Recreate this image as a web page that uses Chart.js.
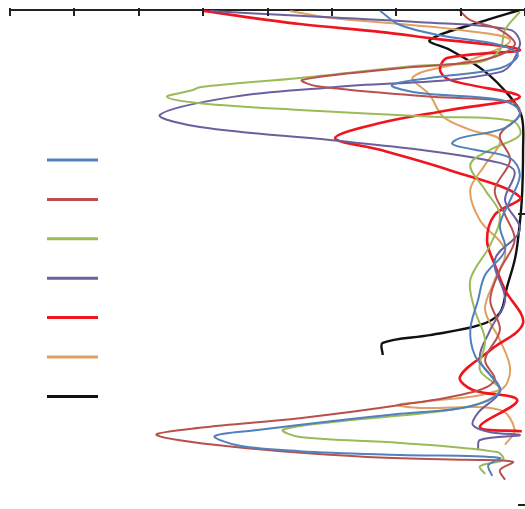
<!DOCTYPE html>
<html>
<head>
<meta charset="utf-8">
<script src="https://cdn.jsdelivr.net/npm/chart.js@4.4.1/dist/chart.umd.min.js"></script>
<style>
  html, body { margin: 0; padding: 0; background: #fff; }
  #wrap { width: 525px; height: 509px; overflow: hidden; }
</style>
</head>
<body>
<div id="wrap"><canvas id="profil" width="525" height="509"></canvas></div>
<script>
// valeurs (x = valeur, y = hauteur)
const names = ['P1', 'P2', 'P3', 'P4', 'P5', 'P6', 'P7'];

const s1x = [-2.25, -1.94, -1.32, -0.39, -0.11, -0.39, -1.48, -2.07, -1.63, -0.39, -0.08, -0.31, -1.01, -1.13, -0.78, -0.23, -0.08, -0.23, -0.39, -0.31, -0.62, -0.73, -0.85, -0.78, -0.54, -0.39, -0.90, -1.94, -2.98, -4.12, -4.82, -4.43, -3.50, -1.94, -0.39, -0.57, -0.51];
const s1y = [10.18, 9.89, 9.68, 9.48, 9.27, 9.00, 8.80, 8.65, 8.49, 8.35, 8.10, 7.77, 7.56, 7.44, 7.32, 7.15, 6.80, 6.28, 5.77, 5.25, 4.74, 4.22, 3.61, 3.09, 2.68, 2.33, 2.02, 1.88, 1.73, 1.55, 1.42, 1.22, 1.11, 1.03, 0.97, 0.82, 0.60];

const s2x = [-1.01, -0.85, -0.39, -0.16, -0.65, -1.94, -3.46, -3.23, -1.43, -0.19, -0.08, -0.39, -0.23, -0.47, -0.31, -0.16, -0.39, -0.54, -0.39, -0.62, -0.47, -0.81, -1.94, -3.50, -5.05, -5.72, -4.54, -2.45, -0.90, -0.19, -0.39, -0.31];
const s2y = [10.18, 9.99, 9.79, 9.48, 9.17, 9.00, 8.76, 8.63, 8.41, 8.30, 8.04, 7.62, 7.11, 6.49, 5.98, 5.46, 4.84, 4.22, 3.61, 2.99, 2.58, 2.33, 2.06, 1.79, 1.59, 1.44, 1.20, 0.99, 0.93, 0.89, 0.72, 0.52];

const s3x = [-0.08, -0.31, -0.39, -0.70, -1.68, -3.50, -5.05, -5.16, -5.56, -5.05, -3.50, -1.43, -0.19, -0.08, -0.54, -0.85, -0.62, -0.39, -0.54, -0.85, -0.78, -0.62, -0.70, -0.39, -0.90, -2.98, -3.76, -3.50, -1.94, -0.43, -0.34, -0.70, -0.62];
const s3y = [10.16, 9.79, 9.38, 9.13, 9.05, 8.80, 8.61, 8.55, 8.41, 8.28, 8.14, 8.00, 7.91, 7.62, 7.32, 7.01, 6.49, 5.98, 5.36, 4.64, 4.02, 3.40, 2.78, 2.37, 2.02, 1.71, 1.55, 1.40, 1.28, 1.09, 0.93, 0.80, 0.64];

const s4x = [-4.89, -3.50, -1.63, -0.23, -0.08, -0.39, -2.98, -4.54, -5.67, -5.05, -3.03, -1.63, -0.39, -0.16, -0.31, -0.08, -0.47, -0.31, -0.54, -0.70, -0.39, -0.73, -0.81, -0.54, -0.08, -0.70, -0.73];
const s4y = [10.18, 10.08, 9.95, 9.79, 9.48, 8.92, 8.61, 8.41, 8.04, 7.79, 7.52, 7.32, 7.05, 6.86, 6.28, 5.67, 5.05, 4.22, 3.61, 2.99, 2.37, 1.90, 1.65, 1.50, 1.44, 1.34, 1.13];

const s5x = [-4.99, -3.50, -2.25, -1.48, -0.08, -1.21, -1.32, -1.17, -0.08, -1.17, -2.25, -2.95, -2.25, -1.17, -0.08, -0.47, -0.59, -0.47, -0.31, -0.03, -0.54, -1.01, -0.81, -0.12, -0.70, -0.05];
const s5y = [10.18, 9.91, 9.75, 9.62, 9.38, 9.21, 8.96, 8.76, 8.41, 8.14, 7.87, 7.56, 7.32, 6.90, 6.35, 5.98, 5.46, 4.95, 4.43, 3.75, 3.19, 2.64, 2.37, 2.16, 1.61, 1.52];

const s6x = [-3.65, -3.03, -1.94, -1.01, -0.23, -0.85, -1.74, -1.48, -1.27, -0.85, -0.39, -0.62, -0.85, -0.70, -0.31, -0.47, -0.62, -0.39, -0.23, -0.39, -1.63, -1.99, -1.63, -0.39, -0.16, -0.31];
const s6y = [10.18, 10.04, 9.91, 9.79, 9.58, 9.17, 8.82, 8.45, 8.00, 7.73, 7.52, 7.01, 6.49, 5.87, 5.25, 4.64, 4.02, 3.40, 2.78, 2.37, 2.12, 2.06, 2.00, 1.96, 1.55, 1.24];

const s7x = [-0.08, -0.70, -1.48, -1.17, -0.65, -0.23, -0.05, -0.03, -0.05, -0.11, -0.16, -0.28, -0.39, -0.70, -1.48, -2.21, -2.21];
const s7y = [10.20, 9.95, 9.58, 9.38, 8.96, 8.41, 8.00, 7.32, 6.28, 5.46, 5.05, 4.49, 3.96, 3.71, 3.50, 3.34, 3.09];

const seriesX = [s1x, s2x, s3x, s4x, s5x, s6x, s7x];
const seriesY = [s1y, s2y, s3y, s4y, s5y, s6y, s7y];

const colors = ['#4F81BD', '#B9504D', '#9BBB59', '#6B5F9E', '#F0141E', '#E0A060', '#111111'];
const widths = [2, 2, 2, 2, 2.6, 2, 2.4];

const datasets = names.map((n, i) => ({
  label: n,
  data: seriesX[i].map((x, j) => ({ x: x, y: seriesY[i][j] })),
  borderColor: colors[i],
  borderWidth: widths[i],
  showLine: true,
  pointRadius: 0,
  tension: 0.35,
  fill: false
}));

// petits traits d'axe + légende (le texte de la légende est coupé)
const decor = {
  id: 'decor',
  afterDraw(chart) {
    const ctx = chart.ctx;
    const area = chart.chartArea;
    const sx = chart.scales.x, sy = chart.scales.y;
    ctx.save();
    ctx.strokeStyle = '#222';
    ctx.lineWidth = 2;
    sx.ticks.forEach(t => {
      const px = Math.round(sx.getPixelForValue(t.value));
      ctx.beginPath();
      ctx.moveTo(px, area.top);
      ctx.lineTo(px, area.top + 6);
      ctx.stroke();
    });
    [0, 6].forEach(v => {
      const py = Math.round(sy.getPixelForValue(v));
      ctx.beginPath();
      ctx.moveTo(area.right - 7, py);
      ctx.lineTo(area.right, py);
      ctx.stroke();
    });
    chart.data.datasets.forEach((ds, i) => {
      const y = 160 + i * 39.4;
      ctx.strokeStyle = ds.borderColor;
      ctx.lineWidth = 3;
      ctx.beginPath();
      ctx.moveTo(47, y);
      ctx.lineTo(98, y);
      ctx.stroke();
    });
    ctx.restore();
  }
};

new Chart(document.getElementById('profil').getContext('2d'), {
  type: 'scatter',
  data: { datasets: datasets },
  options: {
    responsive: false,
    animation: false,
    layout: { padding: { top: 8, left: 10, right: 0, bottom: 4 } },
    plugins: { legend: { display: false }, tooltip: { enabled: false } },
    scales: {
      x: {
        position: 'top',
        min: -8,
        max: 0,
        ticks: { display: false, stepSize: 1 },
        grid: { drawOnChartArea: false, drawTicks: true, tickLength: 2, color: '#222', lineWidth: 2 },
        border: { display: true, color: '#222', width: 2 }
      },
      y: {
        display: false,
        min: 0,
        max: 10.2
      }
    }
  },
  plugins: [decor]
});
</script>
</body>
</html>
